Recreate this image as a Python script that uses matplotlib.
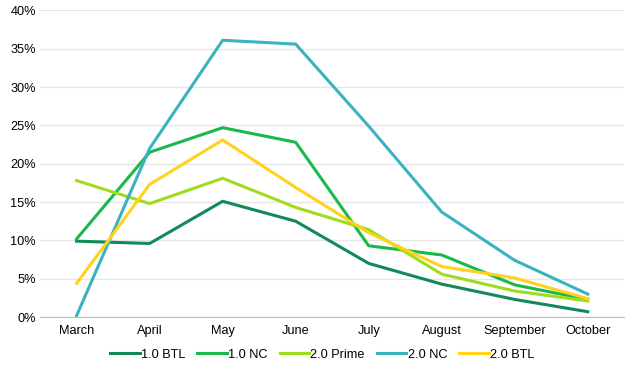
import matplotlib
matplotlib.use('Agg')
import matplotlib.pyplot as plt
from matplotlib.ticker import PercentFormatter

plt.rcParams['font.family'] = ['Liberation Sans', 'DejaVu Sans']

months = ['March', 'April', 'May', 'June', 'July', 'August', 'September', 'October']

btl_10 = [9.9, 9.6, 15.1, 12.5, 7.0, 4.3, 2.3, 0.7]
nc_10 = [10.2, 21.5, 24.7, 22.8, 9.3, 8.1, 4.2, 2.3]
prime_20 = [17.8, 14.8, 18.1, 14.3, 11.4, 5.6, 3.4, 2.1]
nc_20 = [0.2, 22.0, 36.1, 35.6, 24.9, 13.7, 7.4, 3.0]
btl_20 = [4.4, 17.3, 23.1, 16.9, 11.0, 6.6, 5.1, 2.4]

series = [
    ('1.0 BTL', btl_10, '#128a57'),
    ('1.0 NC', nc_10, '#1bb84a'),
    ('2.0 Prime', prime_20, '#9fdd1c'),
    ('2.0 NC', nc_20, '#3ab3c1'),
    ('2.0 BTL', btl_20, '#ffd21c'),
]

fig, ax = plt.subplots(figsize=(6.37, 3.70), dpi=100)
fig.subplots_adjust(left=0.063, right=0.98, top=0.972, bottom=0.143)

x = range(len(months))
for name, vals, col in series:
    ax.plot(x, vals, color=col, linewidth=2.2, label=name, solid_joinstyle='miter')

ax.set_xlim(-0.5, len(months) - 0.5)
ax.set_ylim(0, 40)
ax.set_yticks(range(0, 41, 5))
ax.yaxis.set_major_formatter(PercentFormatter(decimals=0))
ax.set_xticks(list(x))
ax.set_xticklabels(months)
ax.grid(axis='y', color='#e6e6e6', linewidth=1)
ax.set_axisbelow(True)
for s in ['top', 'right', 'left']:
    ax.spines[s].set_visible(False)
ax.spines['bottom'].set_color('#bfbfbf')
ax.tick_params(axis='both', length=0, labelsize=9.2, colors='#000000')
ax.tick_params(axis='x', pad=6)
ax.tick_params(axis='y', pad=3)

ax.legend(loc='upper center', bbox_to_anchor=(0.483, -0.065), ncol=5, frameon=False,
          fontsize=9.2, handlelength=2.3, handletextpad=0.1, columnspacing=0.95)

plt.savefig('out.png', dpi=100)
